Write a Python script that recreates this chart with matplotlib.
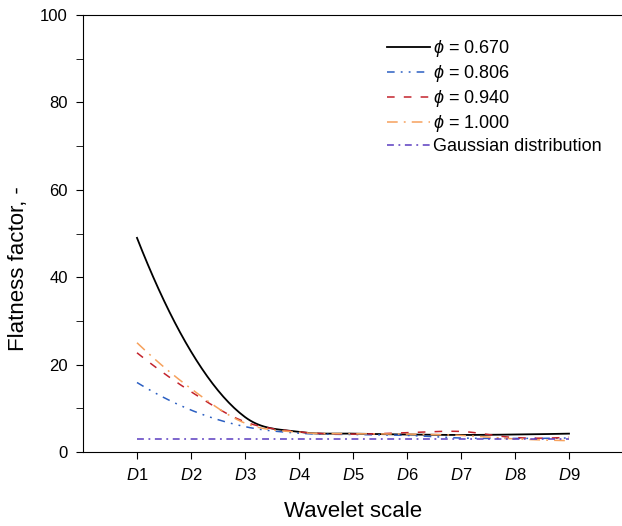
import numpy as np
import matplotlib
matplotlib.use("Agg")
import matplotlib.pyplot as plt
from matplotlib.ticker import MultipleLocator

plt.rcParams['font.family'] = ['Liberation Sans', 'DejaVu Sans']
plt.rcParams['mathtext.fontset'] = 'custom'
plt.rcParams['mathtext.rm'] = 'Liberation Sans'
plt.rcParams['mathtext.it'] = 'Liberation Sans:italic'

scales = [1, 2, 3, 4, 5, 6, 7, 8, 9]
tick_labels = ['D1', 'D2', 'D3', 'D4', 'D5', 'D6', 'D7', 'D8', 'D9']

ff_0670 = [49.0, 23.0, 8.0, 4.6, 4.2, 4.0, 3.9, 4.0, 4.2]
ff_0806 = [15.9, 9.6, 5.8, 4.3, 4.0, 3.8, 3.2, 3.1, 3.2]
ff_0940 = [22.7, 13.8, 6.9, 4.6, 4.1, 4.4, 4.7, 3.3, 3.4]
ff_1000 = [25.0, 14.5, 6.6, 4.5, 4.2, 4.1, 3.8, 3.0, 2.6]
gauss = [3.0] * 9


def smooth(x, y, n=20):
    # catmull-rom through the measured points, only for drawing
    x = np.asarray(x, float)
    y = np.asarray(y, float)
    px = np.concatenate([[2 * x[0] - x[1]], x, [2 * x[-1] - x[-2]]])
    py = np.concatenate([[3 * y[0] - 3 * y[1] + y[2]], y,
                         [3 * y[-1] - 3 * y[-2] + y[-3]]])
    xs, ys = [], []
    t = np.linspace(0, 1, n, endpoint=False)
    for i in range(1, len(px) - 2):
        for p, out in ((px, xs), (py, ys)):
            p0, p1, p2, p3 = p[i - 1], p[i], p[i + 1], p[i + 2]
            out.extend(0.5 * (2 * p1 + (-p0 + p2) * t
                              + (2 * p0 - 5 * p1 + 4 * p2 - p3) * t ** 2
                              + (-p0 + 3 * p1 - 3 * p2 + p3) * t ** 3))
    xs.append(x[-1])
    ys.append(y[-1])
    return xs, ys


fig = plt.figure(figsize=(6.22, 5.26), dpi=100)
ax = fig.add_axes([83 / 622, 74 / 526, 540 / 622, 437 / 526])

ax.plot(*smooth(scales, ff_0670), color='black', lw=1.3, label=r'$\phi$ = 0.670')
ax.plot(*smooth(scales, ff_0806), color='#2b5fc2', lw=1.1,
        dashes=(5, 4, 1.2, 4, 1.2, 4), label=r'$\phi$ = 0.806')
ax.plot(*smooth(scales, ff_0940), color='#c3232c', lw=1.1,
        dashes=(5, 6), label=r'$\phi$ = 0.940')
ax.plot(*smooth(scales, ff_1000), color='#f6a15c', lw=1.1,
        dashes=(7, 4, 1.2, 4), label=r'$\phi$ = 1.000')
ax.plot(scales, gauss, color='#5a3cc0', lw=1.1,
        dashes=(4.5, 3, 1.2, 3), label='Gaussian distribution')

ax.set_xlim(0, 10)
ax.set_ylim(0, 100)
ax.set_xticks(scales)
ax.set_xticklabels([r'$\it{D}$' + s[1:] for s in tick_labels], fontsize=12)
ax.yaxis.set_major_locator(MultipleLocator(20))
ax.yaxis.set_minor_locator(MultipleLocator(10))
ax.tick_params(axis='y', labelsize=12, direction='out', length=5, pad=6)
ax.tick_params(axis='y', which='minor', length=5)
ax.tick_params(axis='x', direction='out', length=5, pad=6)
ax.spines['right'].set_visible(False)

ax.set_xlabel('Wavelet scale', fontsize=16, labelpad=13)
ax.set_ylabel('Flatness factor, -', fontsize=16)
ax.yaxis.set_label_coords(-0.1, 0.42)

ax.legend(loc='upper right', bbox_to_anchor=(0.973, 0.9635), frameon=False,
          fontsize=13, handlelength=2.4, labelspacing=0.22, handletextpad=0.15,
          borderaxespad=0)

fig.savefig('out.png', dpi=100)
plt.close(fig)
